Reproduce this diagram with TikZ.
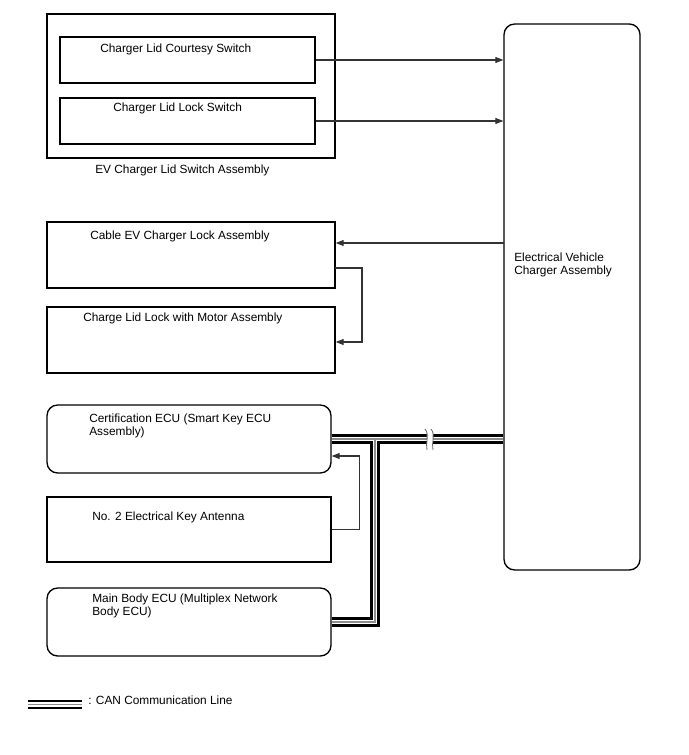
\documentclass[tikz,border=0pt]{standalone}
\usepackage{fontspec}
\setmainfont{Liberation Sans}
\usetikzlibrary{arrows.meta}
\usetikzlibrary{fit}
\usetikzlibrary{positioning}

\begin{document}
\begin{tikzpicture}[
  x=0.75pt, y=-0.75pt,
  every node/.style={font=\fontsize{8.9}{9.4}\selectfont, inner sep=0pt},
  box/.style={draw, line width=1pt, fit={#1}},
  rbox/.style={box={#1}, rounded corners=8pt},
  link/.style={-{Triangle[length=6pt, width=4.5pt]}, line width=0.8pt, black!80},
]
\useasboundingbox (0,0) rectangle (688,755);

%% Lid switch assembly
\node[box={(47,14) (335,158)}]   (lidassy) {};
\node[box={(60,37) (315,83)}]    (sw1) {};
\node[box={(60,98) (315,144)}]   (sw2) {};
\node[anchor=base west] (sw1t) at (100,53)  {Charger Lid Courtesy Switch};
\node[anchor=base west] (sw2t) at (113,112) {Charger Lid Lock Switch};
\node[anchor=base west] (lidt) at (95,174)  {EV Charger Lid Switch Assembly};

%% Charger
\node[rbox={(504,24) (640,570)}] (chg) {};
\node[anchor=north west, align=left] (chgt) at (514,253) {Electrical Vehicle\\Charger Assembly};

%% Lock assemblies
\node[box={(47,222) (335,288)}]  (cable) {};
\node[box={(47,307) (335,373)}]  (motor) {};
\node[anchor=base west] (cablet) at (90,239) {Cable EV Charger Lock Assembly};
\node[anchor=base west] (motort) at (83,321) {Charge Lid Lock with Motor Assembly};

%% ECUs and antenna
\node[rbox={(47,405) (331,473)}] (cert) {};
\node[box={(47,497) (331,562)}]  (ant) {};
\node[rbox={(47,588) (331,656)}] (main) {};
\node[anchor=north west, align=left] (certt) at (89,414) {Certification ECU (Smart Key ECU\\Assembly)};
\node[anchor=base west] (antt) at (92,520) {No. 2 Electrical Key Antenna};
\node[anchor=north west, align=left] (maint) at (92,594) {Main Body ECU (Multiplex Network\\Body ECU)};

%% signal lines
\draw[link] (sw1.east) -- (sw1.east -| chg.west);
\draw[link] (sw2.east) -- (sw2.east -| chg.west);

\coordinate (c1) at (504,243);
\draw[link] (c1) -- (c1 -| cable.east);
\coordinate (c2) at (335,268);
\draw[link] (c2) -- ++(27,0) |- (motor.east |- 0,342);
\draw[link] (ant.east) -- ++(28,0) |- (cert.east |- 0,456);

%% CAN lines
\coordinate (tee) at (375,0 |- cert.east);
\foreach \w/\c in {6.8pt/black, 3.6pt/white, 0.8pt/black!45} {
  \draw[line width=\w, \c] (cert.east) -- (cert.east -| chg.west);
  \draw[line width=\w, \c] (main.east) -| (tee);
}
\fill[white] (427,432) rectangle (433,446);
\draw[line width=0.6pt, black!60] (425,429) .. controls (430,435) and (425,443) .. (427,450);
\draw[line width=0.6pt, black!60] (431,429) .. controls (436,435) and (431,443) .. (433,450);

%% legend
\coordinate (lg1) at (28,704.5);
\coordinate (lg2) at (82,704.5);
\foreach \w/\c in {6.8pt/black, 3.6pt/white, 0.8pt/black!45} {
  \draw[line width=\w, \c] (lg1) -- (lg2);
}
\node[anchor=base west] (lgt) at (88,704) {: CAN Communication Line};

\end{tikzpicture}
\end{document}
